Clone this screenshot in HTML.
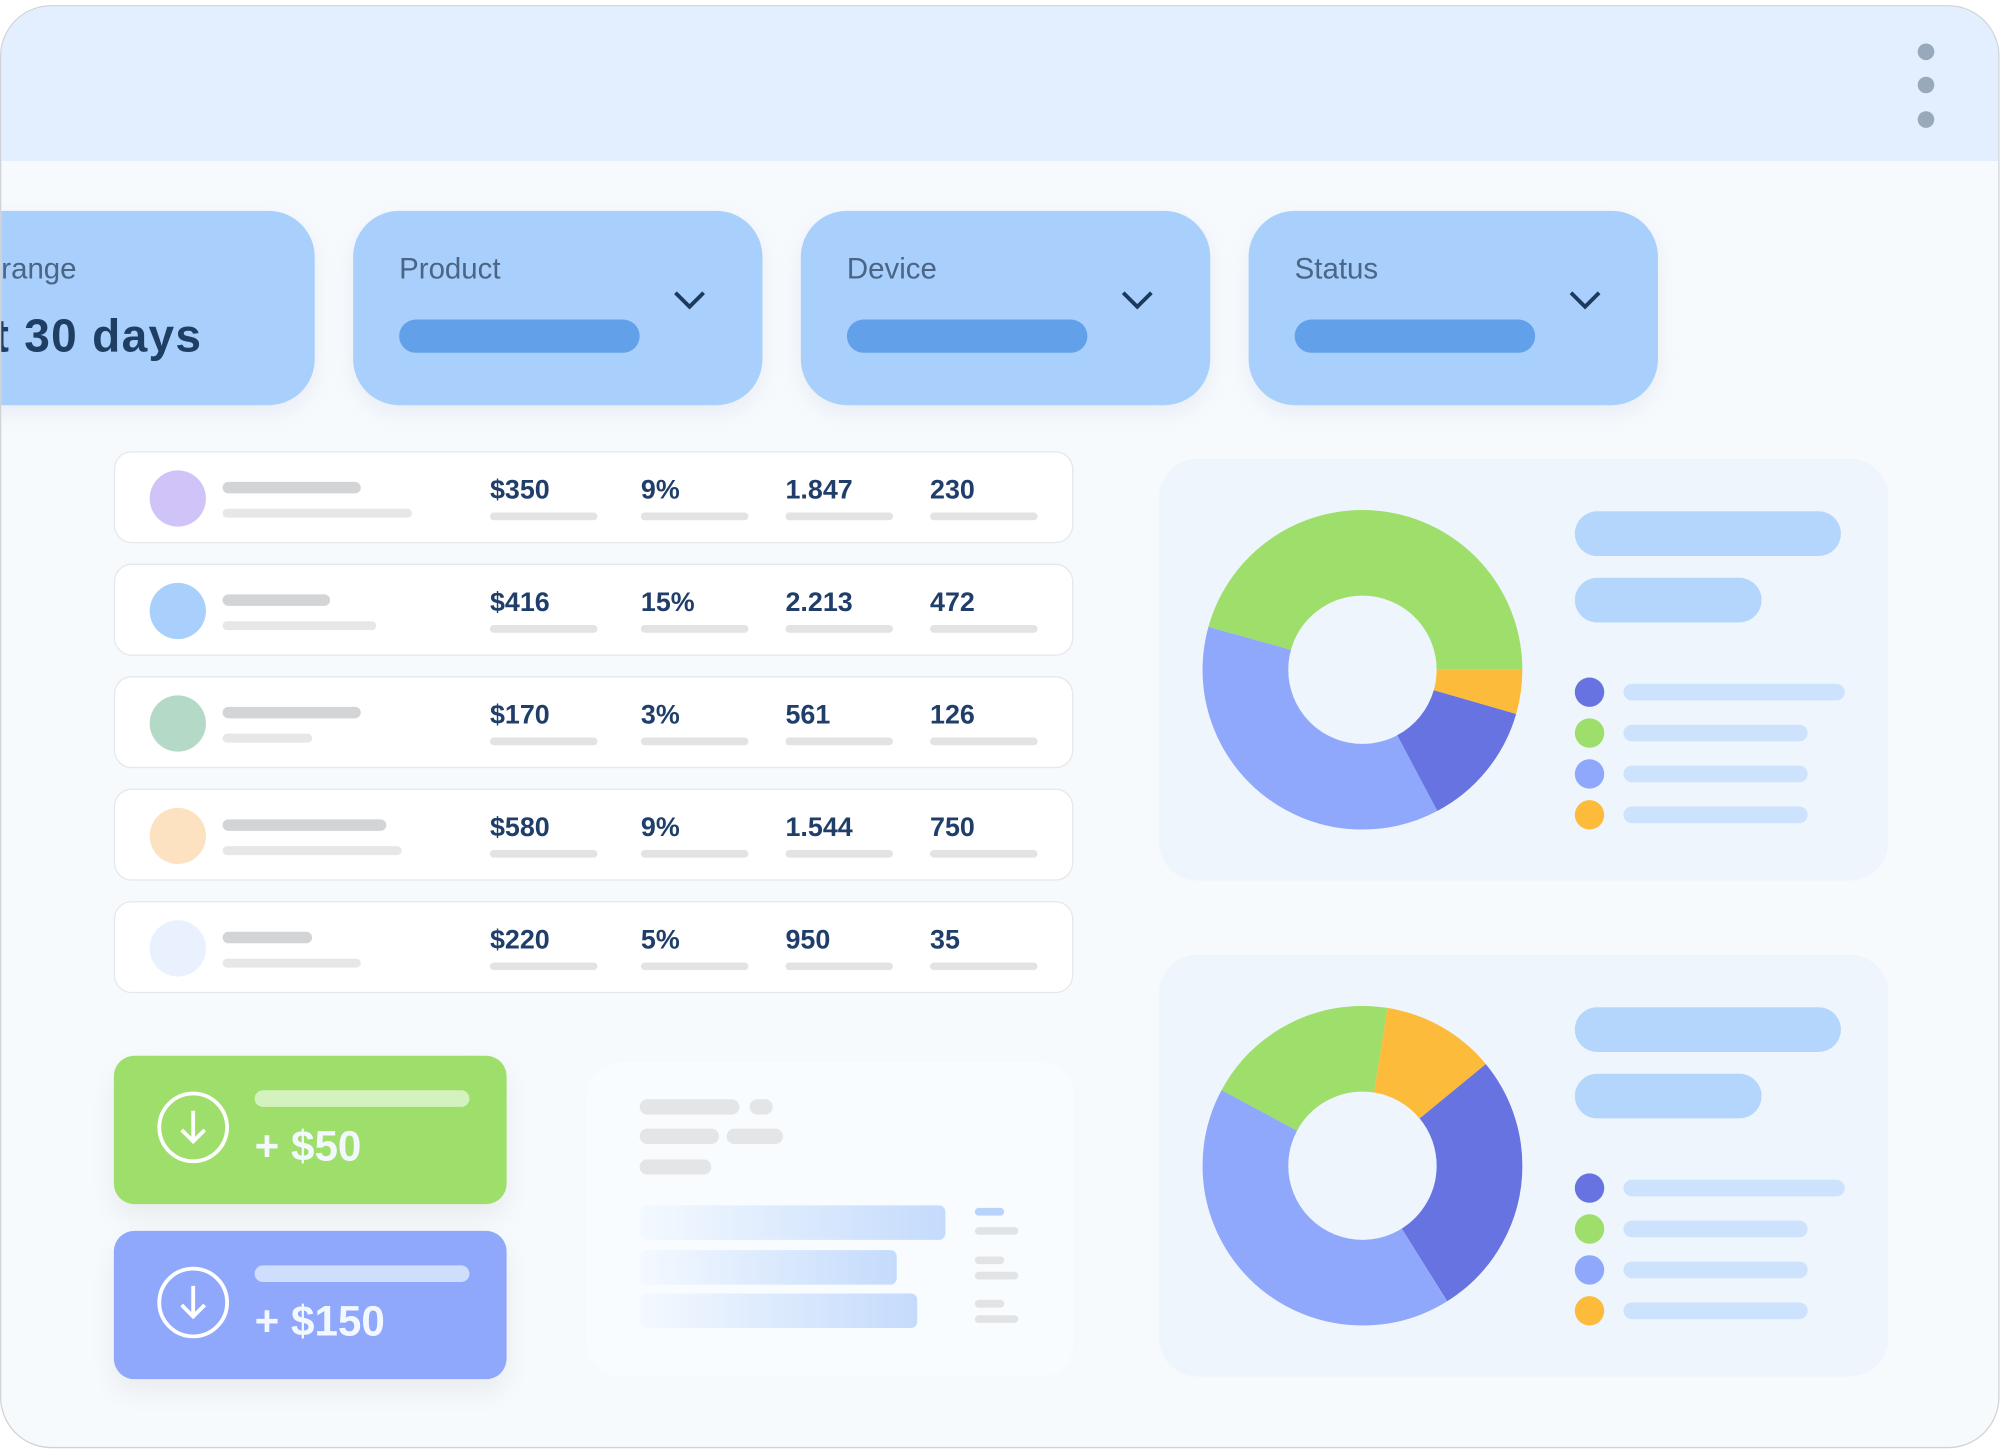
<!DOCTYPE html>
<html><head><meta charset="utf-8"><style>
html,body{margin:0;padding:0;background:#fff;width:2006px;height:1452px;overflow:hidden}
#w{position:absolute;left:0;top:0;width:1568px;height:1136px;transform:scale(1.2793,1.2782);transform-origin:0 0;font-family:"Liberation Sans",sans-serif}
.a{position:absolute}
.card{left:0;top:4px;width:1563px;height:1129px;border-radius:40px;background:#f7fafd;border:1px solid #cfd3d8;overflow:hidden;box-sizing:border-box}
.hdr{left:0;top:0;width:100%;height:121px;background:#e3effe}
.dot{width:13px;height:13px;border-radius:50%;background:#97a9ba}
.f{top:160px;height:152px;width:320px;border-radius:36px;background:#a9d0fc;box-shadow:0 6px 18px rgba(120,150,190,.12)}
.lbl{font-size:23px;color:#4a6585;top:32px;left:36px}
.pill{top:85px;left:36px;width:188px;height:26px;border-radius:13px;background:#62a1ea}
.chev{left:250px;top:62px;width:26px;height:16px}
.row{left:88px;width:750px;height:72px;border-radius:14px;background:#fff;border:1px solid #e4e8ec;box-sizing:border-box}
.cir{left:27px;top:14px;width:44px;height:44px;border-radius:50%}
.g1{left:84px;top:23px;height:9px;border-radius:5px;background:#d2d4d6}
.g2{left:84px;top:44px;height:7px;border-radius:4px;background:#e6e7e8}
.v{top:18px;font-size:21px;font-weight:bold;color:#1f3e6a}
.u{top:47px;width:84px;height:6px;border-radius:3px;background:#e2e3e5}
.btn{left:88px;width:307px;height:116px;border-radius:16px;box-shadow:0 10px 22px rgba(0,0,0,.06)}
.bc{left:34px;top:28px;width:56px;height:56px;border:3px solid #fff;border-radius:50%;box-sizing:border-box}
.bb{left:110px;top:27px;width:168px;height:13px;border-radius:7px}
.bt{left:110px;top:52px;font-size:33px;color:#f3f8ff;font-weight:bold}
.panel{left:905px;width:570px;height:330px;border-radius:30px;background:#eff5fd}
.lp{left:325px;height:35px;border-radius:18px;background:#b5d6fc}
.ld{left:325px;width:23px;height:23px;border-radius:50%}
.ll{left:363px;height:13px;border-radius:7px;background:#cde2fc}
.gb{height:12px;border-radius:6px;background:#e4e5e6}
.hb{left:499px;height:27px;border-radius:5px;background:linear-gradient(90deg,#f4f9ff,#c4dbfc)}
</style></head><body><div id="w">
<div class="a card">
 <div class="a hdr"></div>
 <div class="a dot" style="left:1498px;top:29px"></div>
 <div class="a dot" style="left:1498px;top:55px"></div>
 <div class="a dot" style="left:1498px;top:82px"></div>

 <div class="a f" style="left:-80px;width:325px">
  <div class="a" style="left:80px;top:32px;font-size:23px;color:#4a6585">range</div>
  <div class="a" style="left:74px;top:77px;font-size:36px;font-weight:bold;color:#1f3e63;letter-spacing:1px">t 30 days</div>
 </div>
 <div class="a f" style="left:275px"><div class="a lbl">Product</div><div class="a pill"></div>
  <svg class="a chev" viewBox="0 0 26 16"><path d="M2 2 L13 13 L24 2" fill="none" stroke="#1c3a5e" stroke-width="3"/></svg></div>
 <div class="a f" style="left:625px"><div class="a lbl">Device</div><div class="a pill"></div>
  <svg class="a chev" viewBox="0 0 26 16"><path d="M2 2 L13 13 L24 2" fill="none" stroke="#1c3a5e" stroke-width="3"/></svg></div>
 <div class="a f" style="left:975px"><div class="a lbl">Status</div><div class="a pill"></div>
  <svg class="a chev" viewBox="0 0 26 16"><path d="M2 2 L13 13 L24 2" fill="none" stroke="#1c3a5e" stroke-width="3"/></svg></div>

 <div class="a row" style="top:348px"><div class="a cir" style="background:#cfc3f7"></div><div class="a g1" style="width:108px"></div><div class="a g2" style="width:148px"></div>
  <div class="a v" style="left:293px">$350</div><div class="a v" style="left:411px">9%</div><div class="a v" style="left:524px">1.847</div><div class="a v" style="left:637px">230</div>
  <div class="a u" style="left:293px"></div><div class="a u" style="left:411px"></div><div class="a u" style="left:524px"></div><div class="a u" style="left:637px"></div></div>
 <div class="a row" style="top:436px"><div class="a cir" style="background:#a9d0fc"></div><div class="a g1" style="width:84px"></div><div class="a g2" style="width:120px"></div>
  <div class="a v" style="left:293px">$416</div><div class="a v" style="left:411px">15%</div><div class="a v" style="left:524px">2.213</div><div class="a v" style="left:637px">472</div>
  <div class="a u" style="left:293px"></div><div class="a u" style="left:411px"></div><div class="a u" style="left:524px"></div><div class="a u" style="left:637px"></div></div>
 <div class="a row" style="top:524px"><div class="a cir" style="background:#b5d9c7"></div><div class="a g1" style="width:108px"></div><div class="a g2" style="width:70px"></div>
  <div class="a v" style="left:293px">$170</div><div class="a v" style="left:411px">3%</div><div class="a v" style="left:524px">561</div><div class="a v" style="left:637px">126</div>
  <div class="a u" style="left:293px"></div><div class="a u" style="left:411px"></div><div class="a u" style="left:524px"></div><div class="a u" style="left:637px"></div></div>
 <div class="a row" style="top:612px"><div class="a cir" style="background:#fde2c2"></div><div class="a g1" style="width:128px"></div><div class="a g2" style="width:140px"></div>
  <div class="a v" style="left:293px">$580</div><div class="a v" style="left:411px">9%</div><div class="a v" style="left:524px">1.544</div><div class="a v" style="left:637px">750</div>
  <div class="a u" style="left:293px"></div><div class="a u" style="left:411px"></div><div class="a u" style="left:524px"></div><div class="a u" style="left:637px"></div></div>
 <div class="a row" style="top:700px"><div class="a cir" style="background:#e8f1fd"></div><div class="a g1" style="width:70px"></div><div class="a g2" style="width:108px"></div>
  <div class="a v" style="left:293px">$220</div><div class="a v" style="left:411px">5%</div><div class="a v" style="left:524px">950</div><div class="a v" style="left:637px">35</div>
  <div class="a u" style="left:293px"></div><div class="a u" style="left:411px"></div><div class="a u" style="left:524px"></div><div class="a u" style="left:637px"></div></div>

 <div class="a btn" style="top:821px;background:#9ede6a"><div class="a bc"><svg class="a" style="left:0;top:0" width="50" height="50" viewBox="0 0 50 50"><path d="M25 12 V36 M16 27 L25 36 L34 27" fill="none" stroke="#fff" stroke-width="3"/></svg></div>
  <div class="a bb" style="background:#d3f2bd"></div><div class="a bt">+ $50</div></div>
 <div class="a btn" style="top:958px;background:#8fa8fb"><div class="a bc"><svg class="a" style="left:0;top:0" width="50" height="50" viewBox="0 0 50 50"><path d="M25 12 V36 M16 27 L25 36 L34 27" fill="none" stroke="#fff" stroke-width="3"/></svg></div>
  <div class="a bb" style="background:#cfdefc"></div><div class="a bt">+ $150</div></div>

 <div class="a" style="left:458px;top:826px;width:380px;height:246px;border-radius:26px;background:#f9fcff"></div>
 <div class="a gb" style="left:499px;top:855px;width:78px"></div><div class="a gb" style="left:585px;top:855px;width:18px"></div>
 <div class="a gb" style="left:499px;top:878px;width:62px"></div><div class="a gb" style="left:567px;top:878px;width:44px"></div>
 <div class="a gb" style="left:499px;top:902px;width:56px"></div>
 <div class="a hb" style="top:938px;width:239px"></div>
 <div class="a hb" style="top:973px;width:201px"></div>
 <div class="a hb" style="top:1007px;width:217px"></div>
 <div class="a" style="left:761px;top:940px;width:23px;height:6px;background:#b9d3fb;border-radius:3px"></div>
 <div class="a" style="left:761px;top:955px;width:34px;height:6px;background:#e2e3e5;border-radius:3px"></div>
 <div class="a" style="left:761px;top:978px;width:23px;height:6px;background:#e2e3e5;border-radius:3px"></div>
 <div class="a" style="left:761px;top:990px;width:34px;height:6px;background:#e2e3e5;border-radius:3px"></div>
 <div class="a" style="left:761px;top:1012px;width:23px;height:6px;background:#e2e3e5;border-radius:3px"></div>
 <div class="a" style="left:761px;top:1024px;width:34px;height:6px;background:#e2e3e5;border-radius:3px"></div>

 <div class="a panel" style="top:354px">
  <svg class="a" style="left:0;top:0" width="570" height="330">
   <g transform="rotate(-90 159 165)" fill="none" stroke-width="67">
    <circle cx="159" cy="165" r="91.5" stroke="#9ede6a" stroke-dasharray="119 600" stroke-dashoffset="-455.9"/>
    <circle cx="159" cy="165" r="91.5" stroke="#9ede6a" stroke-dasharray="143.7 600" stroke-dashoffset="0"/>
    <circle cx="159" cy="165" r="91.5" stroke="#fdbb3c" stroke-dasharray="25.6 600" stroke-dashoffset="-143.7"/>
    <circle cx="159" cy="165" r="91.5" stroke="#6673e0" stroke-dasharray="73.5 600" stroke-dashoffset="-169.3"/>
    <circle cx="159" cy="165" r="91.5" stroke="#8fa8fb" stroke-dasharray="213.2 600" stroke-dashoffset="-242.7"/>
   </g></svg>
  <div class="a lp" style="top:41px;width:208px"></div><div class="a lp" style="top:93px;width:146px"></div>
  <div class="a ld" style="top:171px;background:#6673e0"></div><div class="a ll" style="top:176px;width:173px"></div>
  <div class="a ld" style="top:203px;background:#9ede6a"></div><div class="a ll" style="top:208px;width:144px"></div>
  <div class="a ld" style="top:235px;background:#8fa8fb"></div><div class="a ll" style="top:240px;width:144px"></div>
  <div class="a ld" style="top:267px;background:#fdbb3c"></div><div class="a ll" style="top:272px;width:144px"></div>
 </div>
 <div class="a panel" style="top:742px">
  <svg class="a" style="left:0;top:0" width="570" height="330">
   <g transform="rotate(-90 159 165)" fill="none" stroke-width="67">
    <circle cx="159" cy="165" r="91.5" stroke="#9ede6a" stroke-dasharray="99 600" stroke-dashoffset="-475.9"/>
    <circle cx="159" cy="165" r="91.5" stroke="#9ede6a" stroke-dasharray="14.4 600" stroke-dashoffset="0"/>
    <circle cx="159" cy="165" r="91.5" stroke="#fdbb3c" stroke-dasharray="66.3 600" stroke-dashoffset="-14.4"/>
    <circle cx="159" cy="165" r="91.5" stroke="#6673e0" stroke-dasharray="155.7 600" stroke-dashoffset="-80.6"/>
    <circle cx="159" cy="165" r="91.5" stroke="#8fa8fb" stroke-dasharray="239.6 600" stroke-dashoffset="-236.4"/>
   </g></svg>
  <div class="a lp" style="top:41px;width:208px"></div><div class="a lp" style="top:93px;width:146px"></div>
  <div class="a ld" style="top:171px;background:#6673e0"></div><div class="a ll" style="top:176px;width:173px"></div>
  <div class="a ld" style="top:203px;background:#9ede6a"></div><div class="a ll" style="top:208px;width:144px"></div>
  <div class="a ld" style="top:235px;background:#8fa8fb"></div><div class="a ll" style="top:240px;width:144px"></div>
  <div class="a ld" style="top:267px;background:#fdbb3c"></div><div class="a ll" style="top:272px;width:144px"></div>
 </div>
</div>
</div></body></html>
